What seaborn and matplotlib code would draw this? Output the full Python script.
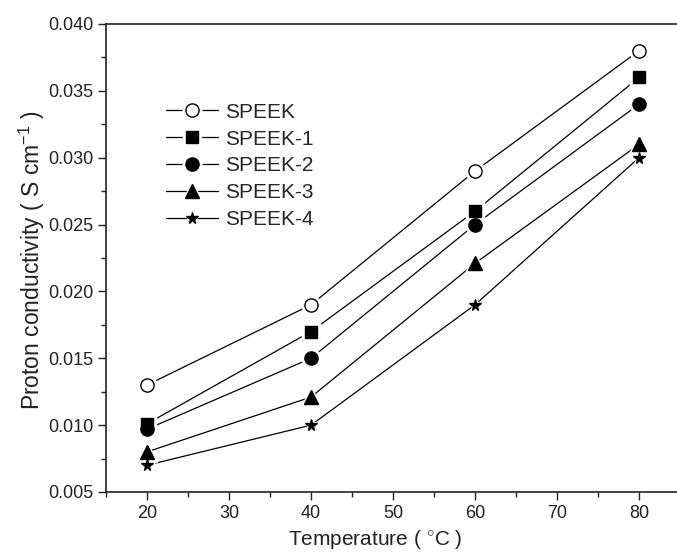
import numpy as np
import pandas as pd
import matplotlib
matplotlib.use("Agg")
import matplotlib.pyplot as plt
import seaborn as sns
from matplotlib.lines import Line2D
from matplotlib.legend_handler import HandlerTuple
from matplotlib.ticker import MultipleLocator, FormatStrFormatter

temperature = [20, 40, 60, 80]
speek = [0.013, 0.019, 0.029, 0.038]
speek_1 = [0.0101, 0.017, 0.026, 0.036]
speek_2 = [0.0097, 0.015, 0.025, 0.034]
speek_3 = [0.008, 0.0121, 0.0221, 0.031]
speek_4 = [0.007, 0.010, 0.019, 0.030]
names = ["SPEEK", "SPEEK-1", "SPEEK-2", "SPEEK-3", "SPEEK-4"]

series = [speek, speek_1, speek_2, speek_3, speek_4]
df = pd.concat([pd.DataFrame({"T": temperature, "sigma": s, "sample": n})
                for s, n in zip(series, names)], ignore_index=True)

sns.set_style("ticks")
plt.rcParams["font.family"] = ["Liberation Sans", "DejaVu Sans"]
plt.rcParams["mathtext.fontset"] = "custom"
plt.rcParams["mathtext.rm"] = "Liberation Sans"
plt.rcParams["mathtext.it"] = "Liberation Sans:italic"

# marker styles: (marker, facecolor, size)
styles = {
    "SPEEK": ("o", "white", 9.5),
    "SPEEK-1": ("s", "black", 8.5),
    "SPEEK-2": ("o", "black", 9.5),
    "SPEEK-3": ("^", "black", 10),
    "SPEEK-4": ("*", "black", 8.5),
}

fig = plt.figure(figsize=(6.77, 5.55), dpi=100)
ax = fig.add_axes([106 / 677, 63 / 555, 574 / 677, 468 / 555])

sns.lineplot(data=df, x="T", y="sigma", hue="sample", palette=["black"] * 5,
             linewidth=0.9, legend=False, ax=ax, zorder=2)

handles = []
for n in names:
    m, fc, ms = styles[n]
    sub = df[df["sample"] == n]
    # white halo gives the small gap between line and marker
    ax.plot(sub["T"], sub["sigma"], linestyle="none", marker=m, markersize=ms + 4,
            markerfacecolor="white", markeredgecolor="white", zorder=3)
    ax.plot(sub["T"], sub["sigma"], linestyle="none", marker=m, markersize=ms,
            markerfacecolor=fc, markeredgecolor="black", markeredgewidth=1.0, zorder=4)
    h_line = Line2D([], [], color="black", linewidth=0.9)
    h_halo = Line2D([], [], linestyle="none", marker=m, markersize=ms + 4,
                    markerfacecolor="white", markeredgecolor="white")
    h_mark = Line2D([], [], linestyle="none", marker=m, markersize=ms,
                    markerfacecolor=fc, markeredgecolor="black", markeredgewidth=1.0)
    handles.append((h_line, h_halo, h_mark))

ax.legend(handles, names, handler_map={tuple: HandlerTuple(ndivide=1)},
          loc="upper left", bbox_to_anchor=(0.104, 0.832), frameon=False,
          fontsize=15, handlelength=2.5, handletextpad=0.33, labelspacing=0.38,
          borderaxespad=0, borderpad=0)

ax.set_xlim(15, 85)
ax.set_ylim(0.005, 0.040)
ax.xaxis.set_major_locator(MultipleLocator(10))
ax.xaxis.set_minor_locator(MultipleLocator(5))
ax.yaxis.set_major_locator(MultipleLocator(0.005))
ax.yaxis.set_minor_locator(MultipleLocator(0.0025))
ax.yaxis.set_major_formatter(FormatStrFormatter("%.3f"))
ax.tick_params(which="major", direction="out", length=6, width=1.0, labelsize=13,
               color="#222222", labelcolor="#222222", pad=3)
ax.tick_params(which="minor", direction="out", length=3.5, width=1.0, color="#222222")
for sp in ax.spines.values():
    sp.set_linewidth(1.2)
    sp.set_color("#222222")
    sp.set_visible(True)

ax.set_xlabel("Temperature ( $^{\\circ}$C )", fontsize=15, color="#222222")
ax.set_ylabel("Proton conductivity ( S cm$^{-1}$ )", fontsize=16.5, color="#222222")
ax.xaxis.set_label_coords(0.469, -0.077)
ax.yaxis.set_label_coords(-0.103, 0.496)

fig.savefig("out.png", dpi=100)
